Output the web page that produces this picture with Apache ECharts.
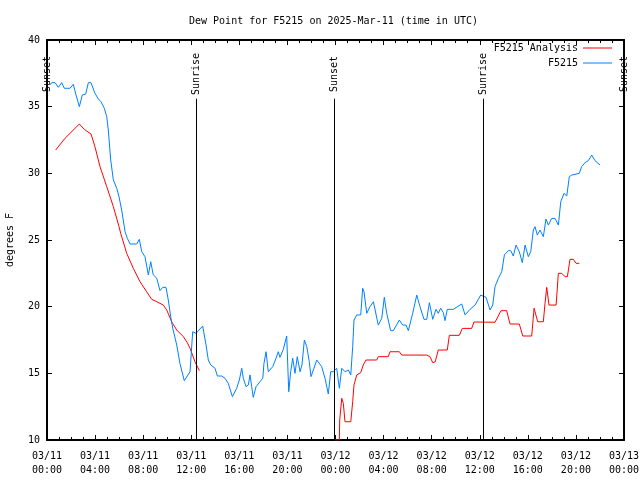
<!DOCTYPE html>
<html>
<head>
<meta charset="utf-8">
<script src="https://cdn.jsdelivr.net/npm/echarts@6/dist/echarts.min.js"></script>
<style>html,body{margin:0;padding:0;background:#fff;}#c{width:640px;height:480px;}</style>
</head>
<body>
<div id="c"></div>
<script>
var tickLabels = ['03/11\n00:00','03/11\n04:00','03/11\n08:00','03/11\n12:00','03/11\n16:00','03/11\n20:00','03/12\n00:00','03/12\n04:00','03/12\n08:00','03/12\n12:00','03/12\n16:00','03/12\n20:00','03/13\n00:00'];

// hours since 03/11 00:00 UTC
var obsHours = [0.25,0.39,0.67,0.94,1.22,1.44,1.91,2.19,2.39,2.69,2.94,3.22,3.44,3.66,3.99,4.27,4.49,4.77,4.97,5.1,5.3,5.52,5.8,5.99,6.21,6.43,6.49,6.68,6.91,7.46,7.68,7.88,8.15,8.43,8.63,8.84,9.13,9.4,9.63,9.9,10.09,10.29,10.46,10.79,11.06,11.42,11.9,12.12,12.4,12.95,13.23,13.42,13.62,13.98,14.17,14.53,14.81,15.08,15.42,15.78,16.0,16.2,16.33,16.56,16.75,16.89,17.03,17.16,17.39,17.72,17.95,18.05,18.22,18.41,18.78,19.05,19.24,19.38,19.66,19.94,20.11,20.27,20.44,20.63,20.82,21.05,21.21,21.41,21.61,21.82,21.96,22.21,22.44,22.85,23.13,23.4,23.6,23.82,24.1,24.32,24.52,24.79,25.07,25.27,25.43,25.54,25.77,26.1,26.26,26.37,26.6,26.87,27.15,27.29,27.56,27.85,28.06,28.26,28.59,28.81,29.31,29.59,29.87,30.06,30.42,30.76,31.03,31.36,31.59,31.81,32.09,32.36,32.55,32.75,32.97,33.11,33.3,33.8,34.5,34.78,35.19,35.61,36.08,36.52,36.86,37.08,37.27,37.55,37.83,38.05,38.38,38.58,38.79,39.02,39.29,39.54,39.77,40.04,40.24,40.46,40.6,40.79,41.01,41.29,41.51,41.71,41.99,42.26,42.54,42.74,43.01,43.24,43.45,43.65,44.28,44.48,44.76,45.03,45.32,45.59,46.01];
var obsValues = [36.63,36.8,36.8,36.45,36.8,36.38,36.38,36.68,35.95,35.0,35.88,35.95,36.8,36.8,36.0,35.58,35.37,34.88,34.25,33.25,31.0,29.5,28.88,28.25,27.25,26.0,25.63,25.13,24.7,24.7,25.05,24.12,23.75,22.38,23.37,22.38,22.13,21.2,21.45,21.45,20.5,19.25,18.38,17.13,15.75,14.45,15.12,18.12,18.0,18.55,17.13,16.0,15.63,15.38,14.8,14.8,14.63,14.25,13.25,13.88,14.5,15.38,14.63,14.0,14.13,14.88,14.0,13.2,14.0,14.37,14.63,15.75,16.62,15.12,15.5,16.13,16.62,16.2,16.8,17.8,13.62,15.12,16.13,15.0,16.25,15.12,15.63,17.5,17.0,15.87,14.75,15.38,16.0,15.5,14.63,13.45,15.12,15.12,15.38,13.88,15.38,15.12,15.25,14.88,17.0,19.0,19.38,19.38,21.38,21.12,19.5,20.0,20.37,20.25,18.62,19.13,20.7,19.5,18.2,18.2,19.0,18.62,18.62,18.2,19.5,20.87,20.0,19.05,19.05,20.3,19.05,19.8,19.5,19.88,19.55,18.95,19.8,19.8,20.2,19.38,19.8,20.12,20.87,20.7,19.75,20.12,21.5,22.13,22.62,23.88,24.2,24.2,23.8,24.62,24.12,23.3,24.62,23.75,24.12,25.75,26.0,25.37,25.75,25.25,26.57,26.12,26.62,26.62,26.12,27.87,28.5,28.3,29.75,29.87,30.0,30.5,30.8,30.95,31.37,30.95,30.62];

var anaHours = [0.72,1.5,2.69,3.1,3.66,3.99,4.41,4.97,5.52,5.99,6.13,6.63,7.18,7.74,8.29,8.71,9.13,9.68,9.96,10.37,10.79,11.34,11.67,11.9,12.31,12.67,null,23.96,24.32,24.35,24.52,24.65,24.79,25.27,25.43,25.54,25.77,26.1,26.31,26.54,27.43,27.56,28.39,28.54,29.31,29.51,31.59,31.86,32.09,32.3,32.55,33.3,33.47,34.3,34.55,35.33,35.52,37.27,37.77,38.24,38.52,39.29,39.58,40.32,40.52,40.82,41.29,41.43,41.57,41.76,42.35,42.54,42.82,43.09,43.29,43.51,43.79,44.01,44.28];
var anaValues = [31.75,32.63,33.7,33.3,32.95,32.0,30.5,29.0,27.5,26.0,25.5,24.0,22.88,21.87,21.12,20.55,20.37,20.12,19.75,18.87,18.25,17.75,17.3,16.88,15.87,15.2,null,10.0,10.0,11.5,13.13,12.75,11.37,11.37,12.87,14.13,14.88,15.05,15.63,16.0,16.0,16.25,16.25,16.62,16.62,16.37,16.37,16.25,15.8,15.87,16.75,16.75,17.85,17.85,18.37,18.37,18.85,18.83,19.7,19.7,18.7,18.7,17.8,17.8,19.88,18.87,18.87,20.25,21.45,20.12,20.12,22.5,22.5,22.25,22.25,23.55,23.55,23.25,23.25];

var sunEventHours = [0, 12.42, 23.9, 36.3, 48];
var sunEventNames = ['Sunset', 'Sunrise', 'Sunset', 'Sunrise', 'Sunset'];
var sunLineTop = 35.6;
var sunLabelY = 37.45;

var FONT = 'DejaVu Sans Mono';

function pairs(xs, ys) {
  var out = [];
  for (var i = 0; i < xs.length; i++) {
    out.push(xs[i] === null ? [null, null] : [xs[i], ys[i]]);
  }
  return out;
}

var markLines = sunEventHours.map(function (h) {
  return [{ coord: [h, 10] }, { coord: [h, sunLineTop] }];
});
var markPoints = sunEventHours.map(function (h, i) {
  return { coord: [h, sunLabelY], name: sunEventNames[i] };
});

var chart = echarts.init(document.getElementById('c'), null, { renderer: 'canvas' });
var axisCommon = {
  axisLine: { show: true, onZero: false, lineStyle: { color: '#000', width: 2 } },
  splitLine: { show: false }
};
chart.setOption({
  animation: false,
  backgroundColor: '#fff',
  title: {
    text: 'Dew Point for F5215 on 2025-Mar-11 (time in UTC)',
    left: 184, top: 11,
    textStyle: { fontFamily: FONT, fontSize: 10, fontWeight: 'normal', color: '#000' }
  },
  legend: {
    orient: 'vertical', right: 28, top: 43, padding: 0,
    align: 'right', itemWidth: 29, itemHeight: 1, itemGap: 5,
    icon: 'rect',
    textStyle: { fontFamily: FONT, fontSize: 10, color: '#000' },
    data: ['F5215 Analysis', 'F5215']
  },
  grid: { left: 47, right: 16, top: 40, bottom: 40, containLabel: false, outerBoundsMode: 'none' },
  xAxis: [
    Object.assign({}, axisCommon, {
      type: 'value', min: 0, max: 48, interval: 4, position: 'bottom',
      axisTick: { show: true, inside: true, length: 5, lineStyle: { color: '#000' } },
      minorTick: { show: true, splitNumber: 4, length: 3, lineStyle: { color: '#000' } },
      axisLabel: {
        fontFamily: FONT, fontSize: 10, color: '#000', margin: 9, lineHeight: 14,
        formatter: function (v) { return tickLabels[Math.round(v / 4)]; }
      }
    }),
    Object.assign({}, axisCommon, {
      type: 'value', min: 0, max: 48, interval: 4, position: 'top',
      axisTick: { show: true, inside: true, length: 5, lineStyle: { color: '#000' } },
      minorTick: { show: true, splitNumber: 4, length: 3, lineStyle: { color: '#000' } },
      axisLabel: { show: false }
    })
  ],
  yAxis: [
    Object.assign({}, axisCommon, {
      type: 'value', min: 10, max: 40, interval: 5, position: 'left',
      name: 'degrees F', nameLocation: 'middle', nameGap: 32, nameRotate: 90,
      nameTextStyle: { fontFamily: FONT, fontSize: 10, color: '#000' },
      axisTick: { show: true, inside: true, length: 5, lineStyle: { color: '#000' } },
      axisLabel: { fontFamily: FONT, fontSize: 10, color: '#000', margin: 7 }
    }),
    Object.assign({}, axisCommon, {
      type: 'value', min: 10, max: 40, interval: 5, position: 'right',
      axisTick: { show: true, inside: true, length: 5, lineStyle: { color: '#000' } },
      axisLabel: { show: false }
    })
  ],
  series: [
    {
      name: 'F5215 Analysis', type: 'line', xAxisIndex: 0, yAxisIndex: 0,
      data: pairs(anaHours, anaValues), showSymbol: false, symbol: 'none',
      connectNulls: false, clip: true,
      lineStyle: { color: '#ff0000', width: 1 }, itemStyle: { color: '#ff0000' },
      markLine: {
        silent: true, symbol: 'none', animation: false,
        lineStyle: { color: '#000', width: 1, type: 'solid' },
        label: { show: false },
        data: markLines
      },
      markPoint: {
        silent: true, symbol: 'circle', symbolSize: 1, animation: false,
        itemStyle: { color: 'rgba(0,0,0,0)' },
        label: {
          show: true, position: 'inside', rotate: 90, formatter: '{b}',
          fontFamily: FONT, fontSize: 10, color: '#000'
        },
        data: markPoints
      }
    },
    {
      name: 'F5215', type: 'line', xAxisIndex: 0, yAxisIndex: 0,
      data: pairs(obsHours, obsValues), showSymbol: false, symbol: 'none',
      lineStyle: { color: '#0080ff', width: 1 }, itemStyle: { color: '#0080ff' }
    }
  ]
});
</script>
</body>
</html>
